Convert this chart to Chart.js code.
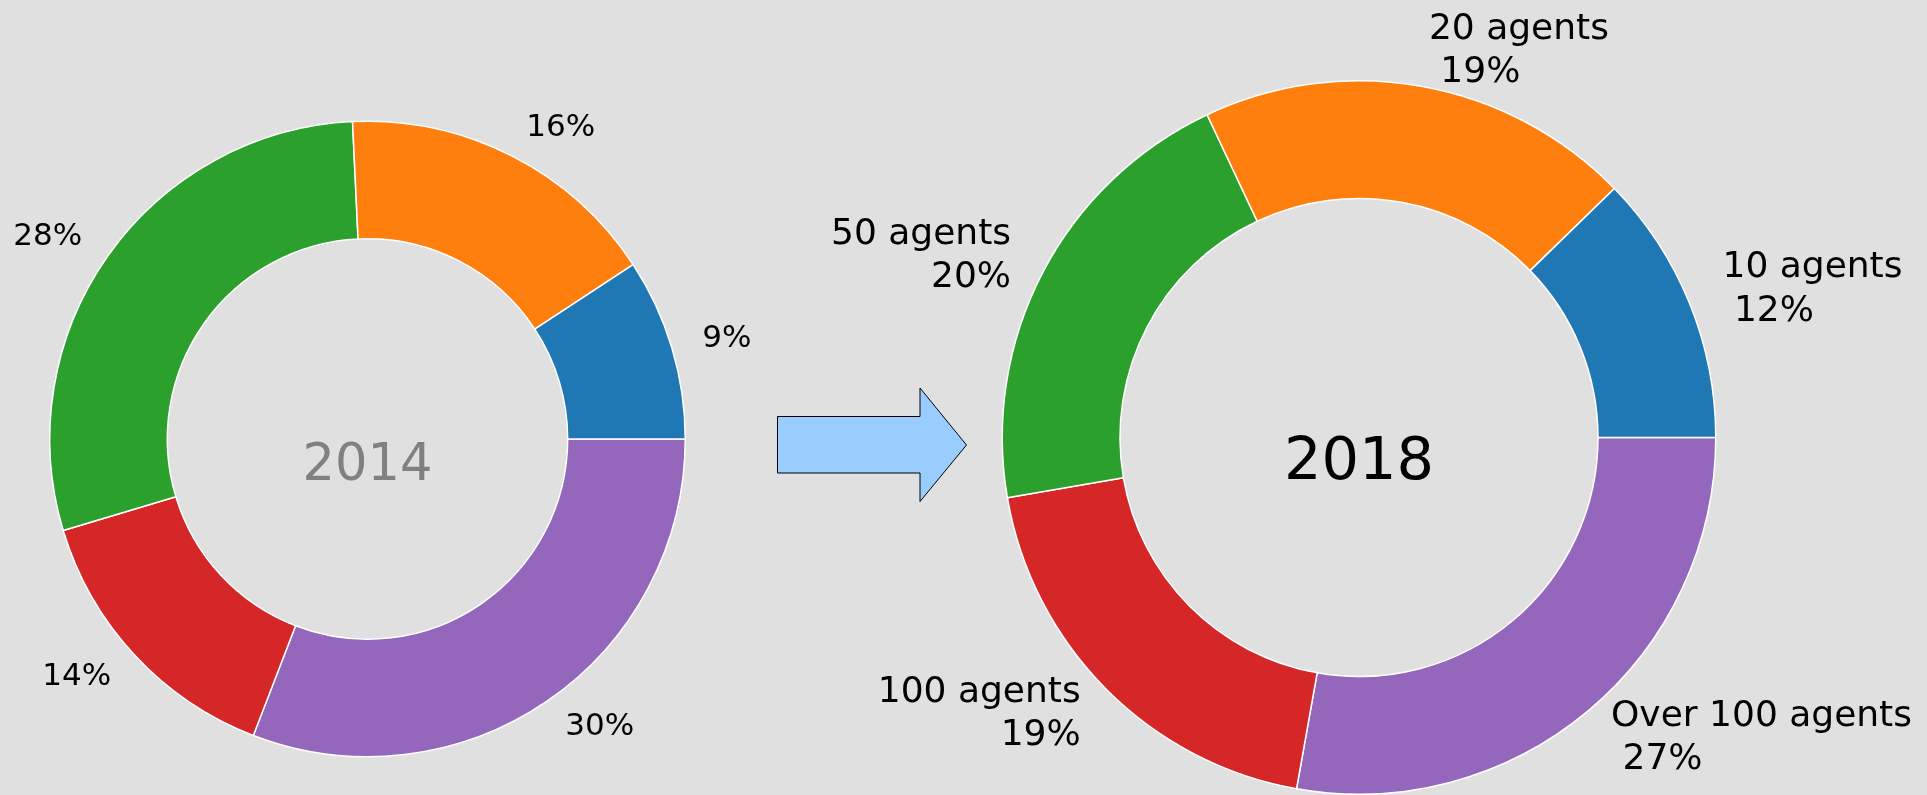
<!DOCTYPE html>
<html>
<head>
<meta charset="utf-8">
<script src="https://cdn.jsdelivr.net/npm/chart.js@4/dist/chart.umd.min.js"></script>
<style>
  html, body { margin: 0; padding: 0; background: #e0e0e0; }
  #wrap { position: relative; width: 1927px; height: 795px; overflow: hidden; }
  canvas { position: absolute; top: 0; }
  #c2014 { left: 0; }
  #c2018 { left: 780px; }
  svg { position: absolute; left: 0; top: 0; }
</style>
</head>
<body>
<div id="wrap">
  <canvas id="c2014" width="780" height="795"></canvas>
  <canvas id="c2018" width="1147" height="795"></canvas>
  <svg width="1927" height="795">
    <polygon points="777.5,416.5 920,416.5 920,388 966.5,445 920,501.5 920,473 777.5,473"
             fill="#99ccff" stroke="#000" stroke-width="1"/>
  </svg>
</div>
<script>
// categories (counter-clockwise from 3 o'clock, like the original)
const categories = ['10 agents', '20 agents', '50 agents', '100 agents', 'Over 100 agents'];
// share of each category, in percent
const share2014 = [9.25, 16.5, 28.9, 14.5, 30.85];
const share2018 = [12.3, 19.7, 20.7, 19.5, 27.8];
const sliceColors = ['#1f77b4', '#ff7f0e', '#2ca02c', '#d62728', '#9467bd'];

// chart.js draws clockwise, so reverse everything
const rev = arr => arr.slice().reverse();

// labels outside the ring + text in the middle
const ringLabels = {
    id: 'ringLabels',
    afterDraw(chart, args, opts) {
        const ctx = chart.ctx;
        const meta = chart.getDatasetMeta(0);
        const values = chart.data.datasets[0].data;
        const total = values.reduce((a, b) => a + b, 0);
        ctx.save();
        ctx.fillStyle = '#000';
        ctx.font = opts.size + 'px "DejaVu Sans"';
        ctx.textBaseline = 'middle';
        meta.data.forEach((arc, i) => {
            const p = arc.getProps(['x', 'y', 'startAngle', 'endAngle', 'outerRadius'], true);
            const mid = (p.startAngle + p.endAngle) / 2;
            const r = p.outerRadius * 1.1;
            const x = p.x + Math.cos(mid) * r;
            const y = p.y + Math.sin(mid) * r;
            const pct = Math.floor(values[i] / total * 100) + '%';
            const text = opts.withNames ? chart.data.labels[i] + '\n ' + pct : pct;
            const lines = text.split('\n');
            const lh = opts.size * 1.2;
            ctx.textAlign = Math.cos(mid) >= 0 ? 'left' : 'right';
            lines.forEach((ln, k) => {
                ctx.fillText(ln, x, y + (k - (lines.length - 1) / 2) * lh);
            });
        });
        const c = meta.data[0];
        ctx.font = opts.centerSize + 'px "DejaVu Sans"';
        ctx.fillStyle = opts.centerColor;
        ctx.textAlign = 'center';
        ctx.textBaseline = 'alphabetic';
        ctx.fillText(opts.centerText, c.x, c.y + opts.centerDrop);
        ctx.restore();
    }
};

function makeRing(id, values, cutout, padding, labelOpts) {
    return new Chart(document.getElementById(id), {
        type: 'doughnut',
        data: {
            labels: rev(categories),
            datasets: [{
                data: rev(values),
                backgroundColor: rev(sliceColors),
                borderColor: '#ffffff',
                borderWidth: 1.5,
                hoverOffset: 0,
                offset: 0
            }]
        },
        options: {
            responsive: false,
            animation: false,
            rotation: 90,
            cutout: cutout,
            layout: { padding: padding },
            plugins: {
                legend: { display: false },
                tooltip: { enabled: false },
                ringLabels: labelOpts
            }
        },
        plugins: [ringLabels]
    });
}

makeRing('c2014', share2014, '63%',
    { left: 49, right: 94, top: 120, bottom: 37 },
    { withNames: false, size: 31, centerText: '2014', centerColor: '#808080', centerSize: 51, centerDrop: 41 });

makeRing('c2018', share2018, '67%',
    { left: 221, right: 210, top: 80, bottom: 0 },
    { withNames: true, size: 36, centerText: '2018', centerColor: '#000000', centerSize: 59, centerDrop: 41 });
</script>
</body>
</html>
